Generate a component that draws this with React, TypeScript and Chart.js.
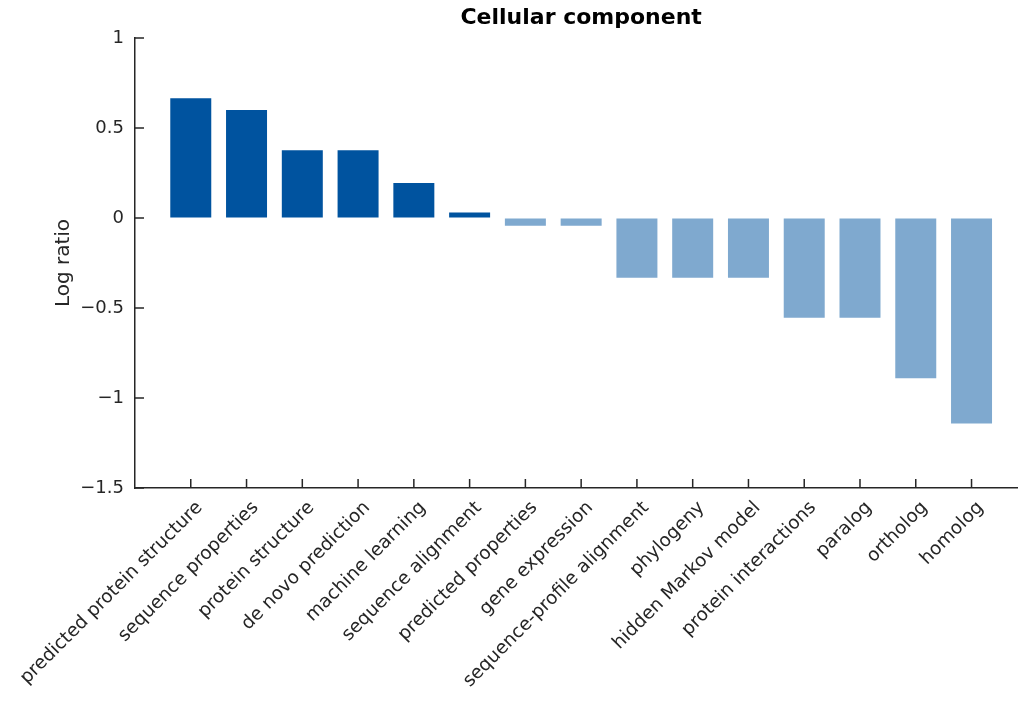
import { useEffect, useRef } from "react";
import { Chart, registerables } from "chart.js";

Chart.register(...registerables);

const categories = [
  "predicted protein structure",
  "sequence properties",
  "protein structure",
  "de novo prediction",
  "machine learning",
  "sequence alignment",
  "predicted properties",
  "gene expression",
  "sequence-profile alignment",
  "phylogeny",
  "hidden Markov model",
  "protein interactions",
  "paralog",
  "ortholog",
  "homolog",
];

const logRatios = [
  0.665, 0.6, 0.377, 0.377, 0.195, 0.031, -0.043, -0.043, -0.332, -0.332,
  -0.332, -0.554, -0.554, -0.89, -1.141,
];

const yMin = -1.5;
const yMax = 1;
const yStep = 0.5;

const POS_COLOR = "#00539f";
const NEG_COLOR = "#7fa9cf";
const AXIS_COLOR = "#262626";
const FONT = "'DejaVu Sans', sans-serif";

const innerTicks = {
  id: "innerTicks",
  afterDraw(chart: any) {
    const { ctx } = chart;
    const x = chart.scales.x;
    const y = chart.scales.y;
    ctx.save();
    ctx.strokeStyle = AXIS_COLOR;
    ctx.lineWidth = 1.5;
    ctx.beginPath();
    for (let i = 1; i <= categories.length; i++) {
      const px = x.getPixelForTick(i);
      ctx.moveTo(px, y.bottom);
      ctx.lineTo(px, y.bottom - 9);
    }
    y.ticks.forEach((_t: any, i: number) => {
      const py = y.getPixelForTick(i);
      ctx.moveTo(x.left, py);
      ctx.lineTo(x.left + 9, py);
    });
    ctx.stroke();
    ctx.restore();
  },
};

export default function App() {
  const ref = useRef<HTMLCanvasElement>(null);

  useEffect(() => {
    if (!ref.current) return;
    const labels = ["", ...categories, ""];
    const data = [null, ...logRatios, null];
    const colors = data.map((v) =>
      v === null ? POS_COLOR : v >= 0 ? POS_COLOR : NEG_COLOR
    );
    Chart.defaults.font.family = FONT;
    const chart = new Chart(ref.current, {
      type: "bar",
      data: {
        labels,
        datasets: [
          {
            data,
            backgroundColor: colors,
            borderWidth: 0,
            barPercentage: 0.735,
            categoryPercentage: 1,
          },
        ],
      },
      options: {
        animation: false,
        responsive: false,
        devicePixelRatio: 1,
        layout: { padding: { left: 0, right: 1, top: 0, bottom: 0 } },
        plugins: {
          legend: { display: false },
          tooltip: { enabled: false },
          title: {
            display: true,
            text: "Cellular component",
            fullSize: false,
            color: "#000",
            font: { size: 22, weight: "bold", family: FONT },
            padding: { top: 5.5, bottom: 6.1 },
          },
        },
        scales: {
          x: {
            type: "category",
            offset: false,
            grid: { display: true, drawOnChartArea: false, drawTicks: false },
            border: { display: true, color: AXIS_COLOR, width: 1.5 },
            ticks: {
              autoSkip: false,
              minRotation: 45,
              maxRotation: 45,
              padding: 9,
              labelOffset: 9,
              color: AXIS_COLOR,
              font: { size: 18.5, family: FONT },
            },
            afterFit: (s: any) => {
              s.height = 221;
            },
          },
          y: {
            min: yMin,
            max: yMax,
            grid: { display: true, drawOnChartArea: false, drawTicks: false },
            border: { display: true, color: AXIS_COLOR, width: 1.5 },
            ticks: {
              stepSize: yStep,
              padding: 11,
              color: AXIS_COLOR,
              font: { size: 18, family: FONT },
              callback: (v: any) => String(Number(v)).replace("-", "\u2212"),
            },
            title: {
              display: true,
              text: "Log ratio",
              color: AXIS_COLOR,
              font: { size: 20, family: FONT },
              padding: { top: 52, bottom: 0 },
            },
            afterFit: (s: any) => {
              s.width = 135;
            },
          },
        },
      },
      plugins: [innerTicks],
    });
    return () => chart.destroy();
  }, []);

  return (
    <div
      style={{
        position: "fixed",
        left: 0,
        top: 0,
        width: 1018,
        height: 709,
        overflow: "hidden",
        background: "#fff",
      }}
    >
      <canvas
        ref={ref}
        width={1052}
        height={709}
        style={{ display: "block", width: 1052, height: 709 }}
      />
    </div>
  );
}
